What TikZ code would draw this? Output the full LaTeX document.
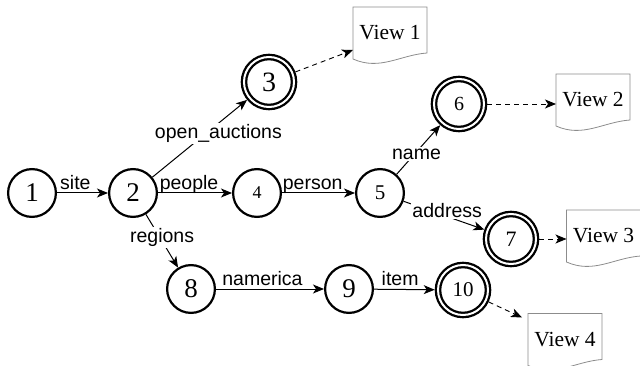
\documentclass[tikz,border=0pt]{standalone}
\usepackage{fontspec}
\setmainfont{Liberation Serif}
\newfontfamily\lblfont{Liberation Sans}
\usetikzlibrary{arrows.meta,calc}
\newcommand\docview[3]{%
  \node[viewtext] (#1) at (#2) {#3};
  \draw[docline] ([shift={(-37,-26)}]#1.center) -- ([shift={(37,-26)}]#1.center)
    -- ([shift={(37,20)}]#1.center)
    .. controls ([shift={(10,22)}]#1.center) and ([shift={(-10,38)}]#1.center) ..
    ([shift={(-37,26)}]#1.center) -- cycle;
}
\begin{document}
\begin{tikzpicture}[x=1pt,y=-1pt,
  state/.style={circle,draw,line width=2.2pt,minimum size=47.8pt,inner sep=0pt},
  final/.style={circle,draw,line width=2.3pt,double=white,double distance=2pt,
    minimum size=50pt,inner sep=0pt,outer sep=3.3pt},
  big/.style={font=\fontsize{27pt}{28pt}\selectfont},
  edge/.style={line width=1pt,-{Stealth[length=11pt,width=9pt,inset=3pt]}},
  dedge/.style={line width=0.9pt,dash pattern=on 5pt off 4pt,
    -{Stealth[length=11pt,width=9pt,inset=3pt]}},
  lbl/.style={font={\lblfont\fontsize{19.5pt}{22pt}\selectfont},inner sep=1pt},
  toplbl/.style={lbl,anchor=base,yshift=3.5pt},
  onlbl/.style={lbl,fill=white,inner sep=1.5pt},
  viewtext/.style={font=\fontsize{21.5pt}{24pt}\selectfont,inner sep=0pt},
  docline/.style={draw=black!45,line width=0.8pt}
]
\useasboundingbox (0,0) rectangle (640,366);

\node[state,big] (n1) at (32,193) {1};
\node[state,big] (n2) at (133,193) {2};
\node[final,font=\fontsize{28pt}{29pt}\selectfont] (n3) at (269,82) {3};
\node[state,font=\fontsize{18pt}{20pt}\selectfont] (n4) at (257,193) {4};
\node[state,font=\fontsize{21pt}{23pt}\selectfont] (n5) at (380,193) {5};
\node[final,font=\fontsize{20pt}{22pt}\selectfont] (n6) at (459,104) {6};
\node[final,font=\fontsize{22pt}{24pt}\selectfont] (n7) at (511,239) {7};
\node[state,big] (n8) at (191,289) {8};
\node[state,big] (n9) at (349,289) {9};
\node[final,font=\fontsize{21pt}{23pt}\selectfont] (n10) at (463,290) {10};

\docview{v1}{390,33}{View 1}
\docview{v2}{593,100}{View 2}
\docview{v3}{603.5,236}{View 3}
\docview{v4}{565,339.5}{View 4}

\coordinate (v1in) at ([shift={(-37,17)}]v1.center);
\coordinate (v2in) at ([shift={(-37,0)}]v2.center);
\coordinate (v3in) at ([shift={(-37,0)}]v3.center);
\coordinate (v4in) at ([shift={(-43,-22)}]v4.center);

\draw[edge] (n1) -- node[toplbl,pos=.36] {site} (n2);
\draw[edge] (n2) -- node[toplbl,pos=.42] {people} (n4);
\draw[edge] (n4) -- node[toplbl,pos=.42] {person} (n5);
\draw[edge] (n8) -- node[toplbl,pos=.43] {namerica} (n9);
\draw[edge] (n9) -- node[toplbl,pos=.43] {item} (n10);
\draw[edge] (n2) -- node[onlbl,pos=.56,xshift=13pt] {open\_auctions} (n3);
\draw[edge] (n2) -- node[onlbl,pos=.44,xshift=2pt] {regions} (n8);
\draw[edge] (n5) -- node[onlbl,pos=.41,xshift=2pt] {name} (n6);
\draw[edge] (n5) -- node[onlbl,pos=.54,yshift=6pt] {address} (n7);

\draw[dedge] (n3) -- (v1in);
\draw[dedge] (n6.east) -- (n6.east -| v2in);
\draw[dedge] (n7.east) -- (n7.east -| v3in);
\draw[dedge] (n10) -- (v4in);
\end{tikzpicture}
\end{document}
